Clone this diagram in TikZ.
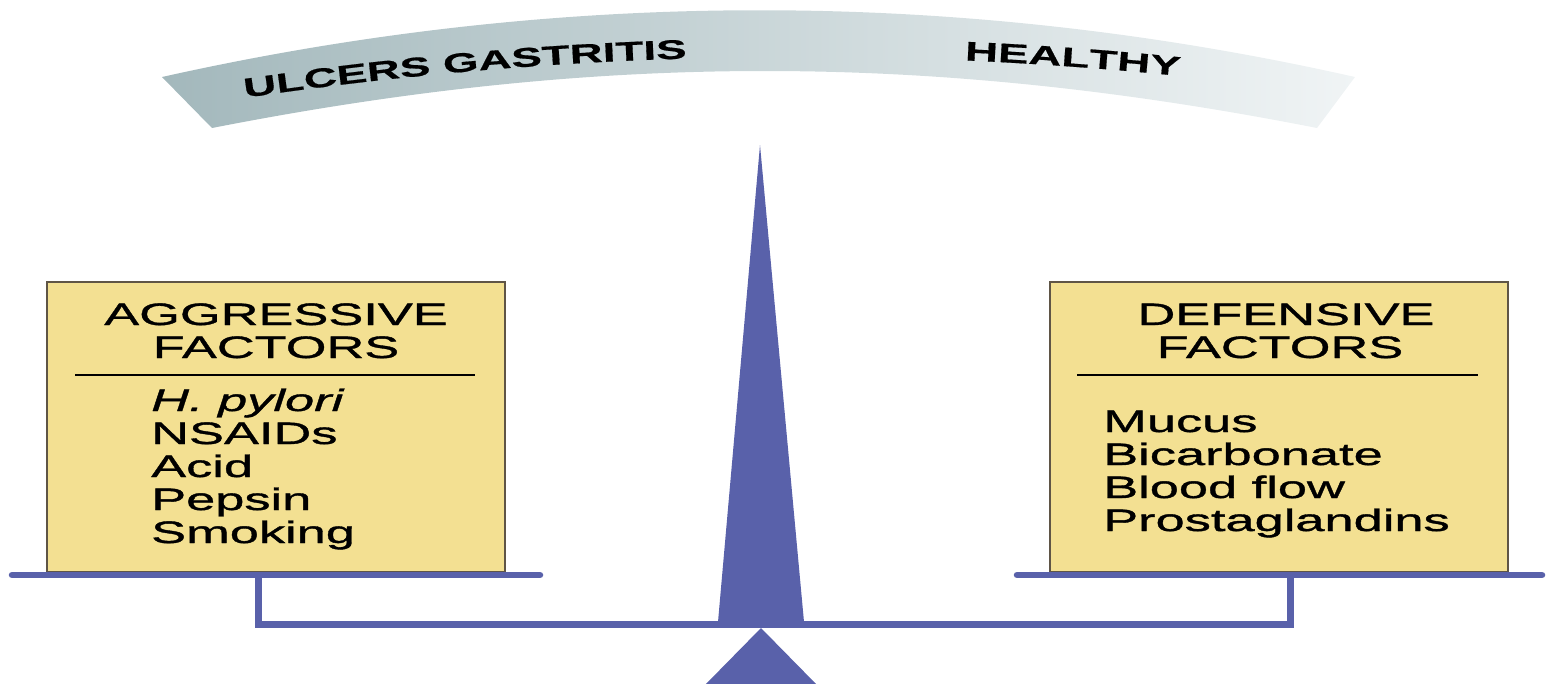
\documentclass[tikz,border=0pt]{standalone}
\usepackage{fontspec}
\newfontfamily\lblfont[FakeStretch=1.69,FakeBold=1.2]{Liberation Sans}
\newfontfamily\bandfont[FakeStretch=1.69,FakeBold=0.6]{Liberation Sans}
\usetikzlibrary{decorations.text}
\definecolor{scaleblue}{RGB}{89,97,170}
\definecolor{boxfill}{RGB}{243,224,146}
\definecolor{boxline}{RGB}{95,85,70}
\definecolor{bandL}{RGB}{163,184,188}
\definecolor{bandR}{RGB}{240,244,245}
\newcommand\bandfmt{\bandfont\bfseries\fontsize{27}{30}\selectfont}
\tikzset{
  factorbox/.style={draw=boxline, line width=2.5pt, fill=boxfill, minimum width=458pt, minimum height=290pt, inner sep=0pt},
  headtxt/.style={font=\lblfont\fontsize{31}{33}\selectfont, anchor=base, inner sep=0pt},
  itemtxt/.style={font=\lblfont\fontsize{31}{33}\selectfont, anchor=base west, inner sep=0pt},
  divider/.style={draw=black, line width=1.5pt},
  scalebar/.style={draw=scaleblue, line width=7pt},
}
\begin{document}
\begin{tikzpicture}[x=1pt,y=-1pt]
\useasboundingbox (0,0) rectangle (1546,683);
% band
\shade[left color=bandL, right color=bandR]
  (162,77) .. controls (560,-12) and (960,-12) .. (1355,77)
  -- (1317,128) .. controls (930,52) and (600,52) .. (212,128) -- cycle;
\path[decorate, decoration={text along path, text={|\bandfmt|ULCERS GASTRITIS}, text align={left indent=96pt}}]
  (150,112.9) .. controls (583.3,38.1) and (1016.7,38.1) .. (1450,112.9);
\path[decorate, decoration={text along path, text={|\bandfmt|HEALTHY}, text align={left indent=818pt}}]
  (150,112.9) .. controls (583.3,38.1) and (1016.7,38.1) .. (1450,112.9);
% boxes
\node[factorbox] (aggbox) at (276,427) {};
\node[factorbox] (defbox) at (1279,427) {};
\node[headtxt] (agg1) at (276,325) {AGGRESSIVE};
\node[headtxt] (agg2) at (276,358) {FACTORS};
\draw[divider] (75,375) -- (475,375);
\node[itemtxt] (a1) at (151,411) {\itshape H. pylori};
\node[itemtxt] (a2) at (151,444) {NSAIDs};
\node[itemtxt] (a3) at (151,477) {Acid};
\node[itemtxt] (a4) at (151,510) {Pepsin};
\node[itemtxt] (a5) at (151,543) {Smoking};
\node[headtxt] (def1) at (1286,325) {DEFENSIVE};
\node[headtxt] (def2) at (1280,358) {FACTORS};
\draw[divider] (1077,375) -- (1478,375);
\node[itemtxt] (d1) at (1103,432) {Mucus};
\node[itemtxt] (d2) at (1103,465) {Bicarbonate};
\node[itemtxt] (d3) at (1103,498) {Blood flow};
\node[itemtxt] (d4) at (1103,531) {Prostaglandins};
% scale
\fill[scaleblue] (760,145) -- (804,622) -- (718,622) -- cycle;
\fill[scaleblue] (761,628) -- (818,686) -- (704,686) -- cycle;
\draw[scalebar, line join=miter] (258,575) -- (258,624) -- (1290,624) -- (1290,575);
\draw[scalebar, line width=6.5pt, line cap=round] (12,575) -- (540,575);
\draw[scalebar, line width=6.5pt, line cap=round] (1017,575) -- (1542,575);
\end{tikzpicture}
\end{document}
